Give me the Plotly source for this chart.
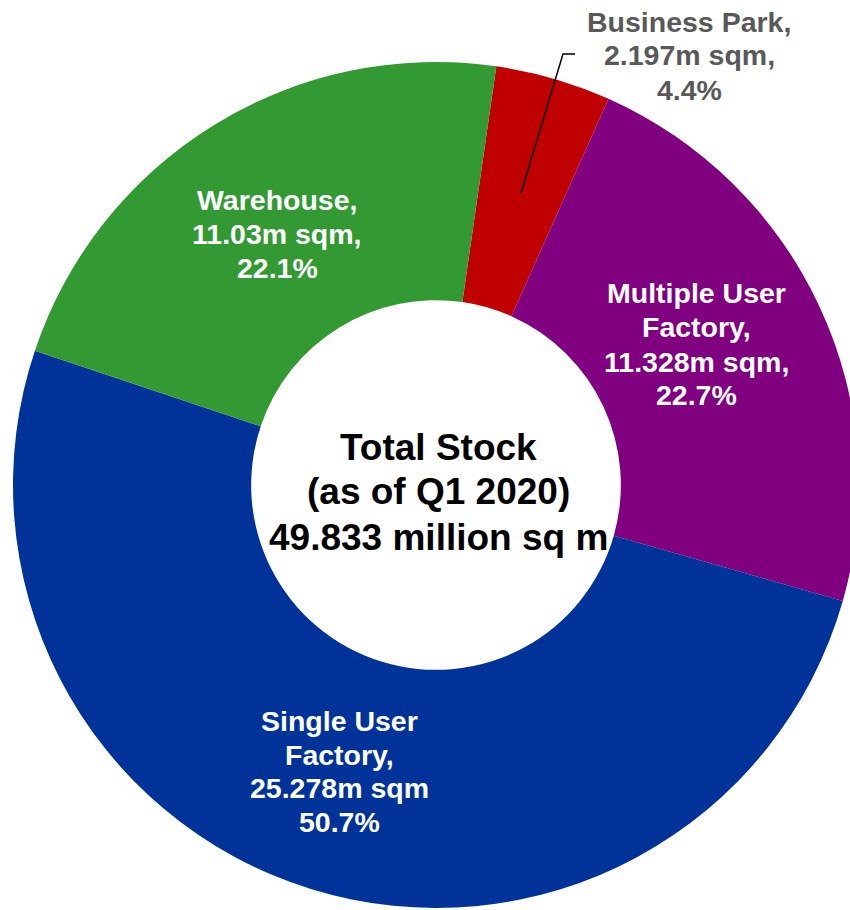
import plotly.graph_objects as go

# ---- data ----
categories = ["Business Park", "Multiple User Factory", "Single User Factory", "Warehouse"]
stock_m_sqm = [2.197, 11.328, 25.278, 11.03]
share_pct = ["4.4%", "22.7%", "50.7%", "22.1%"]
label_lines = [
    ["Business Park,", "2.197m sqm,", "4.4%"],
    ["Multiple User", "Factory,", "11.328m sqm,", "22.7%"],
    ["Single User", "Factory,", "25.278m sqm", "50.7%"],
    ["Warehouse,", "11.03m sqm,", "22.1%"],
]
center_lines = ["Total Stock", "(as of Q1 2020)", "49.833 million sq m"]
colors = ["#C00000", "#800080", "#003399", "#339933"]

# ---- layout geometry (pixels) ----
W, H = 870, 910
cx, cy, R = 436, 485, 423

def px(x):
    return x / W

def py(y):
    return 1 - y / H

fig = go.Figure(go.Pie(
    labels=categories,
    values=stock_m_sqm,
    sort=False,
    direction="clockwise",
    rotation=8.2,
    hole=0.437,
    marker=dict(colors=colors, line=dict(width=0)),
    textinfo="none",
    hoverinfo="label+value+percent",
    showlegend=False,
    domain=dict(x=[px(cx - R), px(cx + R)], y=[py(cy + R), py(cy - R)]),
))

font_main = "Liberation Sans, Arial, sans-serif"
# block x-centre and per-line vertical centres (pixels)
label_x = [689, 696, 339, 277]
label_y = [[22, 55, 90], [293, 327, 362, 395], [721, 755, 788, 822], [200, 234, 268]]
label_colors = ["#595959", "white", "white", "white"]

annotations = []
for lines, x, ys, c in zip(label_lines, label_x, label_y, label_colors):
    for line, y in zip(lines, ys):
        annotations.append(dict(
            x=px(x), y=py(y), xref="paper", yref="paper",
            text="<b>" + line + "</b>", showarrow=False,
            xanchor="center", yanchor="middle", align="center",
            font=dict(family=font_main, size=28.5, color=c),
        ))

center_y = [447.5, 492, 537]
for line, y in zip(center_lines, center_y):
    annotations.append(dict(
        x=px(438), y=py(y), xref="paper", yref="paper",
        text="<b>" + line + "</b>", showarrow=False,
        xanchor="center", yanchor="middle", align="center",
        font=dict(family=font_main, size=37, color="black"),
    ))

fig.update_layout(
    width=W, height=H,
    margin=dict(l=0, r=0, t=0, b=0),
    paper_bgcolor="white", plot_bgcolor="white",
    annotations=annotations,
    shapes=[dict(
        type="path", xref="paper", yref="paper",
        path=f"M {px(521)} {py(193)} L {px(563)} {py(54)} L {px(575)} {py(54)}",
        line=dict(color="black", width=1.5),
    )],
)

fig.write_html(
    "out.html",
    post_script="document.documentElement.style.overflow='hidden';document.body.style.overflow='hidden';document.body.style.margin='0';",
)
